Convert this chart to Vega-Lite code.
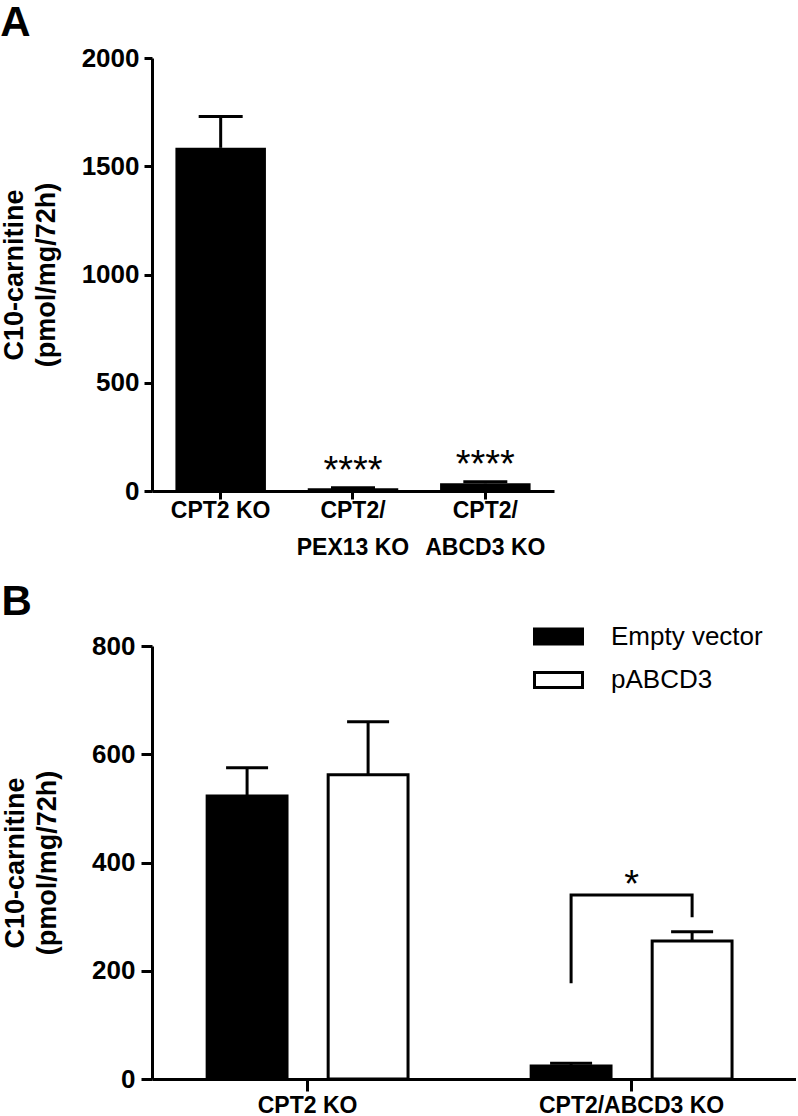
{
  "$schema": "https://vega.github.io/schema/vega-lite/v6.json",
  "padding": {"left": 0, "top": 2, "right": 0, "bottom": 0},
  "background": "white",
  "columns": 1,
  "align": "none",
  "spacing": 22,
  "config": {
    "view": {"stroke": null},
    "font": "Liberation Sans",
    "axis": {
      "grid": false,
      "domainColor": "black",
      "domainWidth": 3,
      "tickColor": "black",
      "tickWidth": 3,
      "labelColor": "black",
      "labelFont": "Liberation Sans",
      "labelFontWeight": "bold",
      "labelLimit": 0,
      "titleFont": "Liberation Sans",
      "titleFontWeight": "bold",
      "titleColor": "black"
    },
    "title": {"font": "Liberation Sans", "fontWeight": "bold", "fontSize": 42, "anchor": "start", "frame": "bounds", "color": "black"}
  },
  "concat": [
    {
      "title": {"text": "A", "offset": 0},
      "width": 402,
      "height": 433,
      "data": {"values": [
        {"group": "CPT2 KO", "mean": 1585, "upper": 1730, "sig": ""},
        {"group": "CPT2/PEX13 KO", "mean": 13, "upper": 15, "sig": "****"},
        {"group": "CPT2/ABCD3 KO", "mean": 36, "upper": 43, "sig": "****"}
      ]},
      "encoding": {
        "x": {
          "field": "group", "type": "nominal", "sort": null,
          "scale": {"paddingInner": 0.316, "paddingOuter": 0.177},
          "axis": {
            "title": null, "labelAngle": 0, "labelFontSize": 23, "tickSize": 8, "labelPadding": 0,
            "labelLineHeight": 37,
            "labelExpr": "datum.label == 'CPT2 KO' ? datum.label : [slice(datum.label, 0, 5), slice(datum.label, 5)]"
          }
        }
      },
      "layer": [
        {
          "mark": {"type": "bar", "color": "black"},
          "encoding": {
            "y": {
              "field": "mean", "type": "quantitative",
              "scale": {"domain": [0, 2000], "nice": false},
              "axis": {
                "values": [0, 500, 1000, 1500, 2000], "format": "d",
                "title": ["C10-carnitine", "(pmol/mg/72h)"],
                "titleFontSize": 27, "titleLineHeight": 32, "titlePadding": 21,
                "labelFontSize": 26, "tickSize": 8, "labelPadding": 5
              }
            }
          }
        },
        {
          "mark": {"type": "rule", "color": "black", "strokeWidth": 3, "opacity": 1},
          "encoding": {"y": {"field": "mean", "type": "quantitative"}, "y2": {"field": "upper"}}
        },
        {
          "mark": {"type": "tick", "color": "black", "size": 44, "thickness": 3, "orient": "horizontal", "opacity": 1},
          "encoding": {"y": {"field": "upper", "type": "quantitative"}}
        },
        {
          "transform": [{"filter": "datum.sig != ''"}],
          "mark": {"type": "text", "fontSize": 38, "font": "Liberation Sans", "color": "black", "baseline": "alphabetic", "dy": -5},
          "encoding": {"y": {"field": "upper", "type": "quantitative"}, "text": {"field": "sig"}}
        }
      ]
    },
    {
      "title": {"text": "B", "offset": 9},
      "width": 644,
      "height": 433,
      "encoding": {
        "x": {
          "field": "group", "type": "nominal", "sort": null,
          "scale": {"paddingInner": 0.38, "paddingOuter": 0.1838, "align": 0.463},
          "axis": {"title": null, "labelAngle": 0, "labelFontSize": 23, "tickSize": 12, "labelPadding": 3}
        }
      },
      "layer": [
        {
          "data": {"values": [
            {"group": "CPT2 KO", "treatment": "Empty vector", "mean": 523, "upper": 575},
            {"group": "CPT2 KO", "treatment": "pABCD3", "mean": 562, "upper": 660},
            {"group": "CPT2/ABCD3 KO", "treatment": "Empty vector", "mean": 24, "upper": 29},
            {"group": "CPT2/ABCD3 KO", "treatment": "pABCD3", "mean": 255, "upper": 272}
          ]},
          "layer": [
            {
              "mark": {"type": "bar", "stroke": "black", "strokeWidth": 3, "opacity": 1},
              "encoding": {
                "xOffset": {"field": "treatment", "type": "nominal", "scale": {"paddingInner": 0.34, "paddingOuter": 0}},
                "y": {
                  "field": "mean", "type": "quantitative",
                  "scale": {"domain": [0, 800], "nice": false},
                  "axis": {
                    "values": [0, 200, 400, 600, 800],
                    "title": ["C10-carnitine", "(pmol/mg/72h)"],
                    "titleFontSize": 27, "titleLineHeight": 32, "titlePadding": 30,
                    "labelFontSize": 26, "tickSize": 11, "labelPadding": 6
                  }
                },
                "fill": {
                  "field": "treatment", "type": "nominal",
                  "scale": {"domain": ["Empty vector", "pABCD3"], "range": ["black", "white"]},
                  "legend": {
                    "orient": "none", "legendX": 381, "legendY": 553, "title": null,
                    "symbolType": "M-1,-0.3125H1V0.3125H-1Z", "symbolSize": 2304,
                    "symbolStrokeColor": "black", "symbolStrokeWidth": 3, "symbolOpacity": 1,
                    "labelFontSize": 26, "labelFont": "Liberation Sans", "labelColor": "black",
                    "labelOffset": 27, "rowPadding": 4.5
                  }
                }
              }
            },
            {
              "mark": {"type": "rule", "color": "black", "strokeWidth": 3, "opacity": 1},
              "encoding": {
                "xOffset": {"field": "treatment", "type": "nominal"},
                "y": {"field": "mean", "type": "quantitative"}, "y2": {"field": "upper"}
              }
            },
            {
              "mark": {"type": "tick", "color": "black", "size": 42, "thickness": 3, "orient": "horizontal", "opacity": 1},
              "encoding": {
                "xOffset": {"field": "treatment", "type": "nominal"},
                "y": {"field": "upper", "type": "quantitative"}
              }
            }
          ]
        },
        {
          "data": {"values": [
            {"group": "CPT2/ABCD3 KO", "treatment": "Empty vector", "y": 177, "seq": 1},
            {"group": "CPT2/ABCD3 KO", "treatment": "Empty vector", "y": 340, "seq": 2},
            {"group": "CPT2/ABCD3 KO", "treatment": "pABCD3", "y": 340, "seq": 3},
            {"group": "CPT2/ABCD3 KO", "treatment": "pABCD3", "y": 299, "seq": 4}
          ]},
          "mark": {"type": "line", "color": "black", "strokeWidth": 3, "strokeJoin": "miter", "strokeCap": "butt"},
          "encoding": {
            "xOffset": {"field": "treatment", "type": "nominal"},
            "y": {"field": "y", "type": "quantitative"},
            "order": {"field": "seq"}
          }
        },
        {
          "data": {"values": [{"group": "CPT2/ABCD3 KO", "y": 340, "label": "*"}]},
          "mark": {"type": "text", "fontSize": 38, "font": "Liberation Sans", "color": "black", "baseline": "alphabetic", "dy": 2},
          "encoding": {"y": {"field": "y", "type": "quantitative"}, "text": {"field": "label"}}
        }
      ]
    }
  ]
}
